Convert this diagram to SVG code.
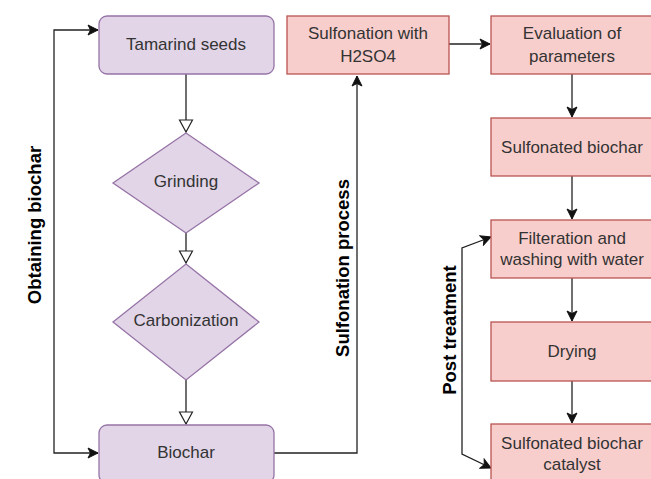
<svg xmlns="http://www.w3.org/2000/svg" width="651" height="479" viewBox="0 0 651 479">
  <style>
    .purple { fill: #e1d5e7; stroke: #9673a6; stroke-width: 1.3; }
    .red { fill: #f8cecc; stroke: #b85450; stroke-width: 1.3; }
    .lbl { font-family: "Liberation Sans", Arial, sans-serif; font-size: 17px; fill: #333333; text-anchor: middle; }
    .side { font-family: "Liberation Sans", Arial, sans-serif; font-size: 18.5px; font-weight: bold; fill: #000000; text-anchor: middle; }
    .edge { fill: none; stroke: #222222; stroke-width: 1.3; }
  </style>
  <defs>
    <marker id="open" viewBox="0 0 14 16" refX="13" refY="8" markerWidth="14" markerHeight="16" markerUnits="userSpaceOnUse" orient="auto">
      <path d="M1,1.5 L13,8 L1,14.5 Z" fill="#ffffff" stroke="#222222" stroke-width="1.2"/>
    </marker>
    <marker id="solid" viewBox="0 0 12 12" refX="11" refY="6" markerWidth="12" markerHeight="12" markerUnits="userSpaceOnUse" orient="auto">
      <path d="M1,1 L11,6 L1,11 L3.5,6 Z" fill="#111111" stroke="#111111" stroke-width="1"/>
    </marker>
    <marker id="solidStart" viewBox="0 0 12 12" refX="1" refY="6" markerWidth="12" markerHeight="12" markerUnits="userSpaceOnUse" orient="auto">
      <path d="M11,1 L1,6 L11,11 L8.5,6 Z" fill="#111111" stroke="#111111" stroke-width="1"/>
    </marker>
  </defs>

  <!-- connectors -->
  <g id="connectors">
    <path class="edge" d="M186,74 L186,132" marker-end="url(#open)"/>
    <path class="edge" d="M186,233 L186,263" marker-end="url(#open)"/>
    <path class="edge" d="M186,380 L186,424" marker-end="url(#open)"/>
    <path class="edge" d="M98,30 L54,30 L54,453 L98,453" marker-start="url(#solidStart)" marker-end="url(#solid)"/>
    <path class="edge" d="M274,453 L357,453 L357,76" marker-end="url(#solid)"/>
    <path class="edge" d="M449,44 L490,44" marker-end="url(#solid)"/>
    <path class="edge" d="M572,74 L572,117" marker-end="url(#solid)"/>
    <path class="edge" d="M572,176 L572,219" marker-end="url(#solid)"/>
    <path class="edge" d="M572,278 L572,321" marker-end="url(#solid)"/>
    <path class="edge" d="M572,381 L572,423" marker-end="url(#solid)"/>
    <path class="edge" d="M491,237 L462,248 L462,454 L491,468" marker-start="url(#solidStart)" marker-end="url(#solid)"/>
  </g>

  <!-- biochar preparation -->
  <g id="tamarind">
    <rect class="purple" x="99" y="16" width="175" height="58" rx="8"/>
    <text class="lbl" x="186" y="50">Tamarind seeds</text>
  </g>
  <g id="grinding">
    <polygon class="purple" points="186,133 259,183 186,233 113,183"/>
    <text class="lbl" x="186" y="187">Grinding</text>
  </g>
  <g id="carbonization">
    <polygon class="purple" points="186,264 259,322 186,380 113,322"/>
    <text class="lbl" x="186" y="326">Carbonization</text>
  </g>
  <g id="biochar">
    <rect class="purple" x="99" y="425" width="175" height="58" rx="8"/>
    <text class="lbl" x="186" y="458">Biochar</text>
  </g>

  <!-- sulfonation -->
  <g id="sulfonation">
    <rect class="red" x="287" y="16" width="162" height="58"/>
    <text class="lbl" x="368" y="39">Sulfonation with</text>
    <text class="lbl" x="368" y="62">H2SO4</text>
  </g>
  <g id="evaluation">
    <rect class="red" x="491" y="16" width="162" height="58"/>
    <text class="lbl" x="572" y="39">Evaluation of</text>
    <text class="lbl" x="572" y="62">parameters</text>
  </g>
  <g id="sulfonated-biochar">
    <rect class="red" x="491" y="118" width="162" height="58"/>
    <text class="lbl" x="572" y="153">Sulfonated biochar</text>
  </g>

  <!-- post treatment -->
  <g id="filtration">
    <rect class="red" x="491" y="220" width="162" height="58"/>
    <text class="lbl" x="572" y="244">Filteration and</text>
    <text class="lbl" x="572" y="265">washing with water</text>
  </g>
  <g id="drying">
    <rect class="red" x="491" y="322" width="162" height="59"/>
    <text class="lbl" x="572" y="357">Drying</text>
  </g>
  <g id="catalyst">
    <rect class="red" x="491" y="424" width="162" height="59"/>
    <text class="lbl" x="572" y="449">Sulfonated biochar</text>
    <text class="lbl" x="572" y="470">catalyst</text>
  </g>

  <!-- stage labels -->
  <text class="side" transform="translate(41,225) rotate(-90)">Obtaining biochar</text>
  <text class="side" transform="translate(349,268) rotate(-90)">Sulfonation process</text>
  <text class="side" transform="translate(456,330) rotate(-90)">Post treatment</text>
</svg>
